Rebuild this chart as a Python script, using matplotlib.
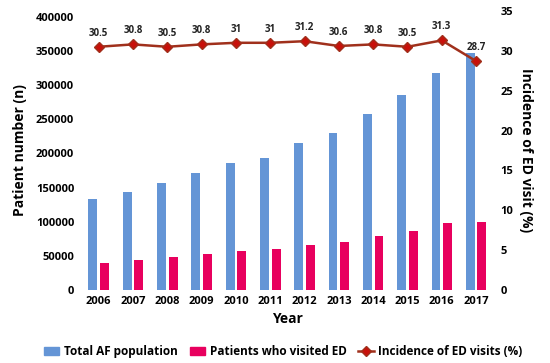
import matplotlib
matplotlib.use("Agg")
from matplotlib import pyplot as plt
from matplotlib.lines import Line2D
from matplotlib.patches import Patch
import numpy as np

years = ["2006", "2007", "2008", "2009", "2010", "2011",
         "2012", "2013", "2014", "2015", "2016", "2017"]
total_af = [133000, 144000, 157000, 171500, 186000, 193500,
            215500, 230000, 258000, 286000, 318000, 347000]
ed_visits = [40000, 44000, 48000, 52800, 57000, 60000,
             66000, 70400, 79000, 86500, 98000, 99000]
incidence = [30.5, 30.8, 30.5, 30.8, 31, 31, 31.2, 30.6, 30.8, 30.5, 31.3, 28.7]
inc_labels = ["30.5", "30.8", "30.5", "30.8", "31", "31",
              "31.2", "30.6", "30.8", "30.5", "31.3", "28.7"]

plt.rcParams['font.family'] = ['Open Sans', 'DejaVu Sans']
plt.rcParams['font.weight'] = 'bold'

blue = "#6495D6"
pink = "#E8005E"
line_col = "#A0301C"
marker_col = "#C8100A"

fig = plt.figure(figsize=(5.5, 3.63), dpi=100)
ax = fig.add_axes([0.145, 0.201, 0.755, 0.769])
ax2 = ax.twinx()

x = np.arange(len(years))
w = 0.26
ax.bar(x - 0.17, total_af, width=w, color=blue, zorder=2)
ax.bar(x + 0.17, ed_visits, width=w, color=pink, zorder=2)

ax2.plot(x, incidence, color=line_col, linewidth=1.8, marker="D", markersize=5.5,
         markerfacecolor=marker_col, markeredgecolor=line_col, zorder=3)
for i in range(len(x)):
    ax2.text(x[i], incidence[i] + 1.0, inc_labels[i], ha="center", va="bottom",
             fontsize=7, fontweight="bold", color="#222222")

ax.set_xlim(-0.55, 11.55)
ax.set_ylim(0, 408800)
ax.set_yticks(np.arange(0, 400001, 50000))
ax.set_yticklabels([str(v) for v in range(0, 400001, 50000)], fontsize=8)
ax.set_xticks(x)
ax.set_xticklabels(years, fontsize=8)
ax2.set_ylim(0, 35)
ax2.set_yticks(np.arange(0, 36, 5))
ax2.set_yticklabels([str(v) for v in range(0, 36, 5)], fontsize=8)

for a in (ax, ax2):
    for s in a.spines.values():
        s.set_visible(False)
    a.tick_params(length=0, pad=4)

ax.set_xlabel("Year", fontsize=10, fontweight="bold", labelpad=4)
ax.set_ylabel("Patient number (n)", fontsize=10, fontweight="bold", labelpad=6)
ax2.set_ylabel("Incidence of ED visit (%)", fontsize=10, fontweight="bold",
               rotation=270, labelpad=14)

handles = [Patch(color=blue, label="Total AF population"),
           Patch(color=pink, label="Patients who visited ED"),
           Line2D([0], [0], color=line_col, linewidth=1.8, marker="D", markersize=5.5,
                  markerfacecolor=marker_col, markeredgecolor=line_col,
                  label="Incidence of ED visits (%)")]
fig.legend(handles=handles, loc="lower center", bbox_to_anchor=(0.515, -0.015), ncol=3,
           frameon=False, fontsize=8.5, handlelength=1.3, columnspacing=1.0,
           handletextpad=0.4)

fig.savefig("out.png", dpi=100)
